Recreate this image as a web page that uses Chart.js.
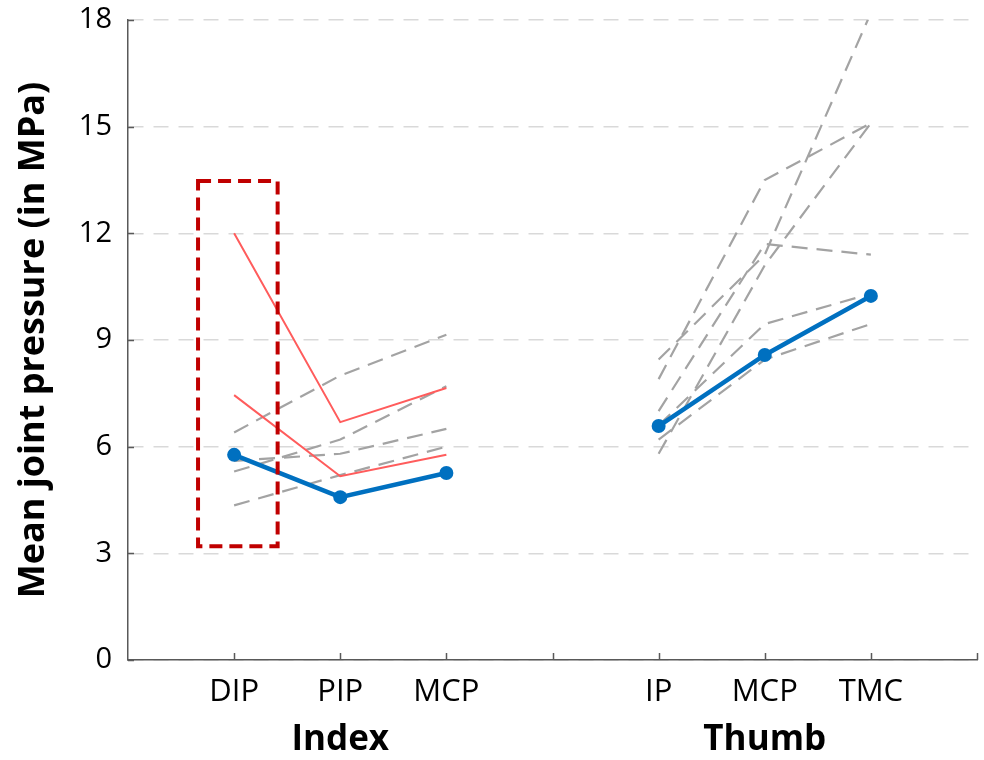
<!DOCTYPE html>
<html>
<head>
<meta charset="utf-8">
<script src="https://cdn.jsdelivr.net/npm/chart.js@4"></script>
<style>
  body { margin: 0; background: #fff; }
  #wrap { width: 984px; height: 760px; }
</style>
</head>
<body>
<div id="wrap"><canvas id="pressureChart" width="984" height="760"></canvas></div>
<script>
// Joint positions on the x axis (blank slots keep the gap between fingers)
const jointLabels = ['', 'DIP', 'PIP', 'MCP', '', 'IP', 'MCP', 'TMC', ''];
const groupLabels = ['Index', 'Thumb'];
const groupCenters = [2, 6];

// Mean joint pressure (MPa)
const indexMean = [5.77, 4.58, 5.26];
const thumbMean = [6.58, 8.58, 10.24];

// Individual subjects, index finger (DIP, PIP, MCP)
const indexOutliers = [
    [12.0, 6.69, 7.65],
    [7.45, 5.17, 5.77]
];
const indexSubjects = [
    [6.4, 8.0, 9.15],
    [5.3, 6.2, 7.7],
    [5.6, 5.8, 6.5],
    [4.35, 5.2, 6.0]
];

// Individual subjects, thumb (IP, MCP, TMC)
const thumbSubjects = [
    [8.45, 11.4, 18.2],
    [7.9, 13.5, 15.1],
    [7.0, 11.7, 11.4],
    [5.8, 11.1, 15.1],
    [6.6, 9.45, 10.3],
    [6.2, 8.45, 9.45]
];

const yTicks = [0, 3, 6, 9, 12, 15, 18];

// pad values into the 9 x slots
function indexRow(vals) {
    return [null, ...vals, null, null, null, null, null];
}
function thumbRow(vals) {
    return [null, null, null, null, null, ...vals, null];
}

const grayStyle = {
    borderColor: '#a3a3a3',
    borderWidth: 2.2,
    borderDash: [16, 9],
    pointRadius: 0,
    order: 3
};

const datasets = [];
indexSubjects.forEach(s => datasets.push({ ...grayStyle, data: indexRow(s) }));
thumbSubjects.forEach(s => datasets.push({ ...grayStyle, data: thumbRow(s) }));
indexOutliers.forEach(s => datasets.push({
    data: indexRow(s),
    borderColor: '#ff5c5c',
    borderWidth: 2,
    pointRadius: 0,
    order: 2
}));
[indexRow(indexMean), thumbRow(thumbMean)].forEach(d => datasets.push({
    data: d,
    borderColor: '#0070c0',
    backgroundColor: '#0070c0',
    borderWidth: 4.5,
    pointRadius: 7,
    pointBorderWidth: 0,
    order: 1
}));

// red dashed box around DIP, tick marks and finger group labels
const extrasPlugin = {
    id: 'extras',
    afterDatasetsDraw(chart) {
        const { ctx, scales: { x, y }, chartArea } = chart;
        ctx.save();

        // inward tick marks
        ctx.strokeStyle = '#595959';
        ctx.lineWidth = 1.5;
        ctx.beginPath();
        yTicks.forEach(v => {
            const py = Math.round(y.getPixelForValue(v)) + 0.5;
            ctx.moveTo(chartArea.left, py);
            ctx.lineTo(chartArea.left + 6, py);
        });
        jointLabels.forEach((l, i) => {
            if (i === 0) return;
            const px = Math.round(x.getPixelForValue(i)) + 0.5;
            ctx.moveTo(px, chartArea.bottom);
            ctx.lineTo(px, chartArea.bottom - 7);
        });
        ctx.stroke();

        // highlight box
        const x0 = x.getPixelForValue(0.66), x1 = x.getPixelForValue(1.41);
        const y0 = y.getPixelForValue(13.47), y1 = y.getPixelForValue(3.2);
        ctx.strokeStyle = '#c00000';
        ctx.lineWidth = 4;
        ctx.setLineDash([13, 7]);
        ctx.strokeRect(x0, y0, x1 - x0, y1 - y0);
        ctx.setLineDash([]);

        // group labels
        ctx.fillStyle = '#000';
        ctx.font = 'bold 35px "Open Sans"';
        ctx.textAlign = 'center';
        ctx.textBaseline = 'middle';
        groupLabels.forEach((g, i) => {
            ctx.fillText(g, x.getPixelForValue(groupCenters[i]), 740);
        });
        ctx.restore();
    }
};

new Chart(document.getElementById('pressureChart'), {
    type: 'line',
    data: { labels: jointLabels, datasets: datasets },
    options: {
        responsive: false,
        animation: false,
        spanGaps: false,
        layout: { padding: { top: 20, right: 2, left: 0, bottom: 0 } },
        plugins: {
            legend: { display: false },
            tooltip: { enabled: false }
        },
        scales: {
            x: {
                offset: false,
                grid: { display: false },
                border: { color: '#595959', width: 1.5 },
                ticks: {
                    autoSkip: false,
                    maxRotation: 0,
                    padding: 6,
                    color: '#000',
                    font: { family: 'Open Sans', size: 31 }
                },
                afterFit(scale) {
                    scale.height = 100;
                    scale.paddingLeft = 0;
                    scale.paddingRight = 0;
                }
            },
            y: {
                min: 0,
                max: 18,
                afterBuildTicks(scale) { scale.ticks = yTicks.map(v => ({ value: v })); },
                grid: {
                    color: '#d9d9d9',
                    lineWidth: 1.5,
                    drawTicks: false
                },
                border: { color: '#595959', width: 1.5, dash: [15, 10] },
                ticks: {
                    padding: 16,
                    color: '#000',
                    font: { family: 'Open Sans', size: 29 }
                },
                title: {
                    display: true,
                    text: 'Mean joint pressure (in MPa)',
                    color: '#000',
                    font: { family: 'Open Sans', size: 36, weight: 'bold' },
                    padding: { top: 12, bottom: 0 }
                },
                afterFit(scale) {
                    scale.width = 128;
                    scale.paddingTop = 0;
                    scale.paddingBottom = 0;
                }
            }
        }
    },
    plugins: [extrasPlugin]
});
</script>
</body>
</html>
